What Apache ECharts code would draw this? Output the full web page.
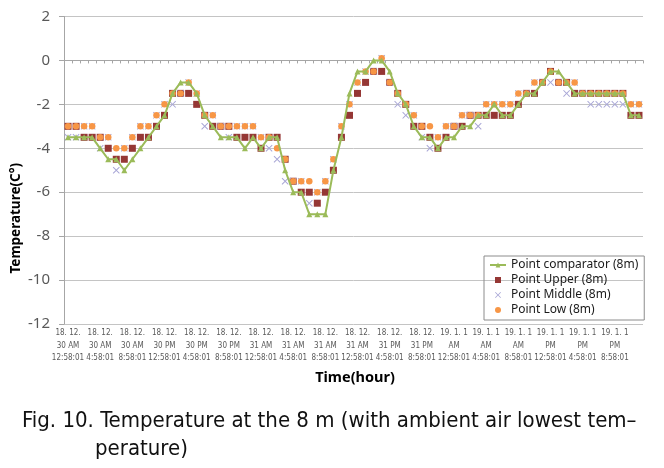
<!DOCTYPE html>
<html><head><meta charset="utf-8">
<script src="https://cdn.jsdelivr.net/npm/echarts@6/dist/echarts.min.js"></script>
<style>html,body{margin:0;padding:0;background:#fff}#c{width:664px;height:468px}</style>
</head><body><div id="c"></div>
<script>
// Tick labels (one every 4 hourly categories)
const tickLabels = [
  "18. 12.\n30 AM\n12:58:01", "18. 12.\n30 AM\n4:58:01", "18. 12.\n30 AM\n8:58:01",
  "18. 12.\n30 PM\n12:58:01", "18. 12.\n30 PM\n4:58:01", "18. 12.\n30 PM\n8:58:01",
  "18. 12.\n31 AM\n12:58:01", "18. 12.\n31 AM\n4:58:01", "18. 12.\n31 AM\n8:58:01",
  "18. 12.\n31 AM\n12:58:01", "18. 12.\n31 PM\n4:58:01", "18. 12.\n31 PM\n8:58:01",
  "19. 1. 1\nAM\n12:58:01", "19. 1. 1\nAM\n4:58:01", "19. 1. 1\nAM\n8:58:01",
  "19. 1. 1\nPM\n12:58:01", "19. 1. 1\nPM\n4:58:01", "19. 1. 1\nPM\n8:58:01"
];
const hoursPerTick = 4;
// 72 hourly categories
const categories = [];
tickLabels.forEach(function (t, k) {
  for (let h = 0; h < hoursPerTick; h++) categories.push(t.replace(/\n/g, ' ') + ' +' + h + 'h');
});

const seriesNames = ["Point comparator (8m)", "Point Upper (8m)", "Point Middle (8m)", "Point Low (8m)"];

const comparator = [
  -3.5,-3.5,-3.5,-3.5,-4.0,-4.5,-4.5,-5.0,-4.5,-4.0,
  -3.5,-3.0,-2.5,-1.5,-1.0,-1.0,-1.5,-2.5,-3.0,-3.5,
  -3.5,-3.5,-4.0,-3.5,-4.0,-3.5,-3.5,-5.0,-6.0,-6.0,
  -7.0,-7.0,-7.0,-5.0,-3.5,-1.5,-0.5,-0.5,0.0,0.0,
  -0.5,-1.5,-2.0,-3.0,-3.5,-3.5,-4.0,-3.5,-3.5,-3.0,
  -3.0,-2.5,-2.5,-2.0,-2.5,-2.5,-2.0,-1.5,-1.5,-1.0,
  -0.5,-0.5,-1.0,-1.5,-1.5,-1.5,-1.5,-1.5,-1.5,-1.5,
  -2.5,-2.5
];
const upper = [
  -3.0,-3.0,-3.5,-3.5,-3.5,-4.0,-4.5,-4.5,-4.0,-3.5,
  -3.5,-3.0,-2.5,-1.5,-1.5,-1.5,-2.0,-2.5,-3.0,-3.0,
  -3.0,-3.5,-3.5,-3.5,-4.0,-3.5,-3.5,-4.5,-5.5,-6.0,
  -6.0,-6.5,-6.0,-5.0,-3.5,-2.5,-1.5,-1.0,-0.5,-0.5,
  -1.0,-1.5,-2.0,-3.0,-3.0,-3.5,-4.0,-3.5,-3.0,-3.0,
  -2.5,-2.5,-2.5,-2.5,-2.5,-2.5,-2.0,-1.5,-1.5,-1.0,
  -0.5,-1.0,-1.0,-1.5,-1.5,-1.5,-1.5,-1.5,-1.5,-1.5,
  -2.5,-2.5
];
const middle = [
  -3.5,-3.5,-3.0,-3.0,-4.0,-3.5,-5.0,-4.0,-3.5,-3.0,
  -3.0,-2.5,-2.0,-2.0,-1.5,-1.0,-1.5,-3.0,-2.5,-3.0,
  -3.5,-3.0,-3.0,-3.0,-3.5,-4.0,-4.5,-5.5,-5.5,-5.5,
  -6.5,-6.0,-5.5,-4.5,-3.0,-2.0,-1.0,-0.5,-0.5,0.1,
  -1.0,-2.0,-2.5,-2.5,-3.5,-4.0,-3.5,-3.0,-3.0,-2.5,
  -2.5,-3.0,-2.0,-2.0,-2.0,-2.0,-1.5,-1.5,-1.0,-1.0,
  -1.0,-1.0,-1.5,-1.0,-1.5,-2.0,-2.0,-2.0,-2.0,-2.0,
  -2.0,-2.0
];
const low = [
  -3.0,-3.0,-3.0,-3.0,-3.5,-3.5,-4.0,-4.0,-3.5,-3.0,
  -3.0,-2.5,-2.0,-1.5,-1.5,-1.0,-1.5,-2.5,-2.5,-3.0,
  -3.0,-3.0,-3.0,-3.0,-3.5,-3.5,-4.0,-4.5,-5.5,-5.5,
  -5.5,-6.0,-5.5,-4.5,-3.0,-2.0,-1.0,-0.5,-0.5,0.1,
  -1.0,-1.5,-2.0,-2.5,-3.0,-3.0,-3.5,-3.0,-3.0,-2.5,
  -2.5,-2.5,-2.0,-2.0,-2.0,-2.0,-1.5,-1.5,-1.0,-1.0,
  -0.5,-1.0,-1.0,-1.0,-1.5,-1.5,-1.5,-1.5,-1.5,-1.5,
  -2.0,-2.0
];

const xSymbol = 'path://M0,1L1,0L5,4L9,0L10,1L6,5L10,9L9,10L5,6L1,10L0,9L4,5Z';
const squareIcon = 'path://M0,0L10,0L10,10L0,10Z';

const chart = echarts.init(document.getElementById('c'), null, {renderer: 'canvas'});
chart.setOption({
  animation: false,
  backgroundColor: '#ffffff',
  grid: {left: 64, right: 21, top: 16.5, bottom: 144, containLabel: false},
  legend: {
    orient: 'vertical', left: 484, top: 256,
    borderColor: '#8c8c8c', borderWidth: 1, padding: [3, 6, 4, 5],
    itemGap: 3, itemWidth: 16, itemHeight: 6,
    textStyle: {fontSize: 12, color: '#1a1a1a', fontFamily: 'Noto Sans'},
    data: [
      {name: seriesNames[0]},
      {name: seriesNames[1], icon: squareIcon},
      {name: seriesNames[2], icon: xSymbol},
      {name: seriesNames[3], icon: 'circle'}
    ]
  },
  xAxis: [{
    type: 'category', data: categories, boundaryGap: true, position: 'bottom',
    axisLine: {show: false, onZero: false},
    axisTick: {show: false},
    splitLine: {show: false},
    axisLabel: {
      interval: hoursPerTick - 1, margin: 3, fontSize: 8, lineHeight: 12.5,
      color: '#595959', fontFamily: 'Liberation Sans Narrow, DejaVu Sans Condensed, sans-serif',
      formatter: function (v, i) { return tickLabels[Math.floor(i / hoursPerTick)]; }
    }
  }, {
    type: 'category', data: categories, boundaryGap: true,
    axisLine: {show: true, onZero: true, lineStyle: {color: '#a6a6a6', width: 1}},
    axisTick: {show: true, interval: 0, length: 3, inside: true, lineStyle: {color: '#a6a6a6'}},
    axisLabel: {show: false},
    splitLine: {show: false}
  }],
  yAxis: {
    type: 'value', min: -12, max: 2, interval: 2,
    axisLine: {show: true, lineStyle: {color: '#a6a6a6', width: 1}},
    axisTick: {show: true, length: 5, lineStyle: {color: '#a6a6a6'}},
    splitLine: {show: true, lineStyle: {color: '#c4c4c4', width: 1}},
    axisLabel: {margin: 14, fontSize: 15, color: '#595959', fontFamily: 'Noto Sans'}
  },
  series: [{
    name: seriesNames[0], type: 'line', data: comparator, xAxisIndex: 0,
    symbol: 'triangle', symbolSize: 6, showAllSymbol: true,
    lineStyle: {color: '#9bbb59', width: 2},
    itemStyle: {color: '#9bbb59'}
  }, {
    name: seriesNames[1], type: 'scatter', data: upper, xAxisIndex: 0,
    symbol: 'rect', symbolSize: 7,
    itemStyle: {color: '#953735', opacity: 1}
  }, {
    name: seriesNames[2], type: 'scatter', data: middle, xAxisIndex: 0,
    symbol: xSymbol, symbolSize: 7,
    itemStyle: {color: '#a9a7d6', opacity: 1}
  }, {
    name: seriesNames[3], type: 'scatter', data: low, xAxisIndex: 0,
    symbol: 'circle', symbolSize: 6.5,
    itemStyle: {color: '#f79646', opacity: 1}
  }],
  graphic: [{
    type: 'text', left: 9, top: 163, rotation: Math.PI / 2, originX: 0, originY: 0,
    style: {text: 'Temperature(C°)', fontSize: 13.5, fontWeight: 'bold', fill: '#000',
      fontFamily: 'Noto Sans', align: 'center', verticalAlign: 'middle'}
  }, {
    type: 'text', x: 355, y: 378,
    style: {text: 'Time(hour)', fontSize: 14.5, fontWeight: 'bold', fill: '#000',
      fontFamily: 'Noto Sans', align: 'center', verticalAlign: 'middle'}
  }, {
    type: 'text', x: 22, y: 421,
    style: {text: 'Fig. 10. Temperature at the 8 m (with ambient air lowest tem–', fontSize: 22,
      fill: '#111', fontFamily: 'DejaVu Sans Condensed', align: 'left', verticalAlign: 'middle'}
  }, {
    type: 'text', x: 95, y: 449,
    style: {text: 'perature)', fontSize: 22,
      fill: '#111', fontFamily: 'DejaVu Sans Condensed', align: 'left', verticalAlign: 'middle'}
  }]
});
</script>
</body></html>
